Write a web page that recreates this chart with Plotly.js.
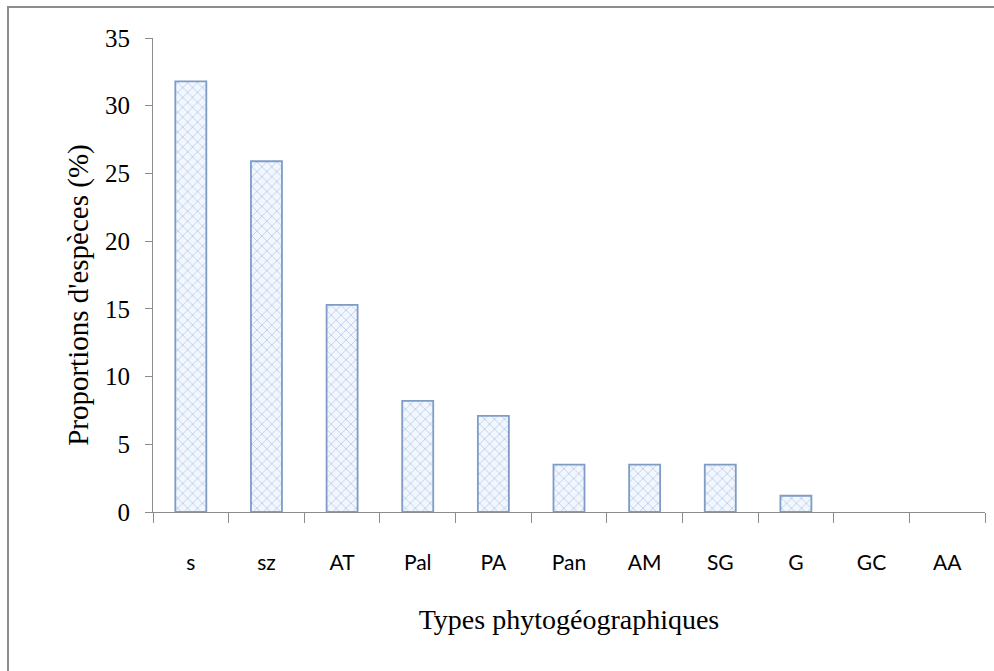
<!DOCTYPE html>
<html><head><meta charset="utf-8">
<script src="https://cdn.plot.ly/plotly-3.0.1.min.js"></script>
<style>
html,body{margin:0;padding:0;background:#fff;}
#wrap{position:relative;width:994px;height:671px;overflow:hidden;}
#frame{position:absolute;left:7px;top:6px;width:1000px;height:700px;border-top:2px solid #8c8c8c;border-left:2px solid #8c8c8c;pointer-events:none;z-index:5;}
#chart{position:absolute;left:0;top:0;width:994px;height:671px;}
</style></head>
<body>
<div id="wrap"><div id="chart"></div><div id="frame"></div></div>
<script>
const categories = ["s","sz","AT","Pal","PA","Pan","AM","SG","G","GC","AA"];
const proportions = [31.8, 25.9, 15.3, 8.2, 7.1, 3.5, 3.5, 3.5, 1.2, 0, 0];
const yTicks = [0,5,10,15,20,25,30,35];
const xTitle = "Types phytogéographiques";
const yTitle = "Proportions d'espèces (%)";

const trace = {
  type: "bar",
  x: categories,
  y: proportions,
  width: 0.41,
  marker: {
    color: "#eef4fc",
    line: {color: "#7f9cc6", width: proportions.map(v => v > 0 ? 1.8 : 0)},
    pattern: {shape: "x", fgcolor: "#b3cbeb", bgcolor: "#f3f7fd", size: 7, solidity: 0.22}
  },
  hoverinfo: "skip"
};

const serif = "'Liberation Serif', 'DejaVu Serif', serif";
const layout = {
  width: 994, height: 671,
  margin: {l: 153, r: 9, t: 38, b: 159},
  paper_bgcolor: "#ffffff", plot_bgcolor: "#ffffff",
  showlegend: false,
  xaxis: {
    type: "category",
    showgrid: false, zeroline: false,
    showline: true, linecolor: "#8c8c8c", linewidth: 1,
    ticks: "outside", tickson: "boundaries", ticklen: 10, tickcolor: "#8c8c8c",
    ticklabelstandoff: 32,
    tickfont: {family: "Lato, 'Open Sans', sans-serif", size: 21, color: "#000"},
    title: {text: xTitle, font: {family: serif, size: 28, color: "#000"}, standoff: 36}
  },
  yaxis: {
    range: [0, 35],
    tickvals: yTicks,
    ticktext: yTicks.map(String),
    showgrid: false, zeroline: false,
    showline: true, linecolor: "#8c8c8c", linewidth: 1,
    ticks: "outside", ticklen: 7, tickcolor: "#8c8c8c",
    ticklabelstandoff: 10,
    tickfont: {family: serif, size: 25, color: "#000"}
  },
  annotations: [{
    text: yTitle, textangle: -90, showarrow: false,
    xref: "paper", yref: "paper", x: -0.089, y: 0.458,
    xanchor: "center", yanchor: "middle",
    font: {family: serif, size: 29, color: "#000"}
  }]
};

Plotly.newPlot("chart", [trace], layout, {displayModeBar: false, staticPlot: true});
</script>
</body></html>
